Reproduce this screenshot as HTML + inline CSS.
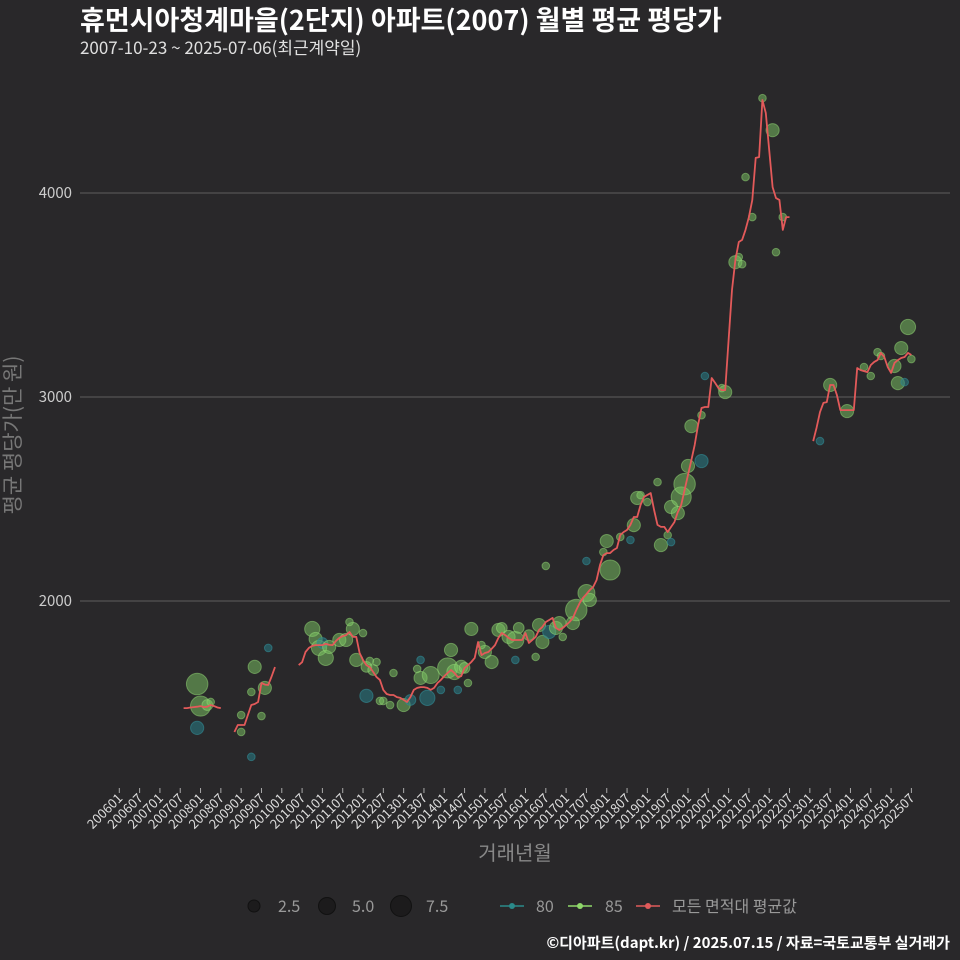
<!DOCTYPE html>
<html><head><meta charset="utf-8"><style>
html,body{margin:0;padding:0;background:#29282a;}
svg{display:block;font-family:"Noto Sans CJK KR","Liberation Sans",sans-serif;}
</style></head><body>
<svg id="chart" width="960" height="960" viewBox="0 0 960 960">
<rect width="960" height="960" fill="#29282a"/>
<text x="80" y="30" fill="#ffffff" font-size="27" font-weight="bold">휴먼시아청계마을(2단지) 아파트(2007) 월별 평균 평당가</text>
<text x="80" y="54" fill="#e0e0e0" font-size="17">2007-10-23 ~ 2025-07-06(최근계약일)</text>
<g id="grid"></g>
<g id="xaxis"></g>
<g id="bubbles"></g>
<g id="line"></g>
<text transform="translate(20,435) rotate(-90)" text-anchor="middle" fill="#777" font-size="21">평균 평당가(만 원)</text>
<text x="515" y="860" text-anchor="middle" fill="#888" font-size="20">거래년월</text>
<g>
<circle cx="254" cy="906" r="6" fill="#1c1b1c" stroke="#111"/>
<text x="278" y="912" fill="#999" font-size="16">2.5</text>
<circle cx="327" cy="906" r="8.5" fill="#1c1b1c" stroke="#111"/>
<text x="352" y="912" fill="#999" font-size="16">5.0</text>
<circle cx="401" cy="906" r="10.5" fill="#1c1b1c" stroke="#111"/>
<text x="426" y="912" fill="#999" font-size="16">7.5</text>
<line x1="500" y1="906" x2="524" y2="906" stroke="#2a8a8a" stroke-width="1.5"/>
<circle cx="512" cy="906" r="3" fill="#2a8a8a"/>
<text x="536" y="912" fill="#999" font-size="16">80</text>
<line x1="568" y1="906" x2="592" y2="906" stroke="#8fd86a" stroke-width="1.5"/>
<circle cx="580" cy="906" r="3" fill="#8fd86a"/>
<text x="605" y="912" fill="#999" font-size="16">85</text>
<line x1="636" y1="906" x2="660" y2="906" stroke="#e05a5a" stroke-width="1.5"/>
<circle cx="648" cy="906" r="3" fill="#e05a5a"/>
<text x="672" y="912" fill="#999" font-size="16">모든 면적대 평균값</text>
</g>
<text x="950" y="948" text-anchor="end" fill="#ffffff" font-size="15" font-weight="bold">©디아파트(dapt.kr) / 2025.07.15 / 자료=국토교통부 실거래가</text>
</svg>
<script>
// y ticks
const yTicks = [2000, 3000, 4000];
// x tick labels every 6 months from 200601
const xTickLabels = ["200601","200607","200701","200707","200801","200807","200901","200907","201001","201007","201101","201107","201201","201207","201301","201307","201401","201407","201501","201507","201601","201607","201701","201707","201801","201807","201901","201907","202001","202007","202101","202107","202201","202207","202301","202307","202401","202407","202501","202507"];
// average line: month index (months since 2006-01), values
const lineMonths = [19,20,21,22,23,24,25,26,27,28,29,30,
 34,35,36,37,38,39,40,41,42,43,44,45,46,
 53,54,55,56,57,58,59,60,61,62,63,64,65,66,67,68,69,70,71,72,73,74,75,76,77,78,79,80,81,82,83,84,85,86,87,88,89,90,91,92,93,94,95,96,97,98,99,100,101,102,103,104,105,106,107,108,109,110,111,112,113,114,115,116,117,118,119,120,121,122,123,124,125,126,127,128,129,130,131,132,133,134,135,136,137,138,139,140,141,142,143,144,145,146,147,148,149,150,151,152,153,154,155,156,157,158,159,160,161,162,163,164,165,166,167,168,169,170,171,172,173,174,175,176,177,178,179,180,181,182,183,184,185,186,187,188,189,190,191,192,193,194,195,196,197,198,
 205,206,207,208,209,210,211,212,213,214,215,216,217,218,219,220,221,222,223,224,225,226,227,228,229,230,231,232,233,234];
const lineValues = [1475,1475,1478,1480,1482,1485,1480,1482,1490,1485,1478,1475,
 1358,1392,1392,1392,1441,1490,1495,1505,1598,1590,1588,1630,1676,
 1686,1700,1750,1770,1780,1784,1784,1784,1790,1785,1784,1804,1819,1828,1833,1848,1824,1824,1745,1711,1686,1676,1652,1627,1613,1564,1544,1539,1539,1529,1525,1515,1505,1529,1564,1574,1578,1578,1574,1564,1574,1598,1613,1632,1647,1662,1647,1627,1632,1672,1686,1701,1721,1799,1735,1745,1750,1765,1784,1819,1843,1833,1819,1809,1809,1809,1809,1843,1794,1809,1824,1858,1873,1897,1907,1917,1868,1858,1868,1882,1897,1917,1956,1990,2015,2034,2054,2069,2103,2176,2225,2235,2235,2250,2260,2324,2338,2348,2373,2412,2412,2471,2510,2520,2529,2446,2373,2363,2363,2338,2363,2387,2436,2471,2544,2618,2691,2765,2863,2946,2951,2951,3093,3069,3044,3034,3034,3279,3525,3672,3760,3770,3819,3882,3966,4172,4176,4456,4392,4211,4029,3975,3966,3819,3882,3882,
 2784,2850,2926,2971,2975,3059,3059,3010,2936,2936,2936,2936,2936,3142,3132,3127,3122,3157,3172,3181,3216,3196,3147,3118,3167,3181,3191,3196,3216,3206];
// bubbles: month index, value, count, area type
const bubbleMonths = [23,24,23,26,27,36,36,39,40,42,43,39,44,57,58,59,61,60,62,65,67,69,68,72,70,73,74,76,75,73,77,78,80,81,84,86,89,88,89,91,92,97,98,99,101,103,104,95,100,102,108,110,107,112,113,115,117,118,117,121,123,124,125,126,127,129,130,131,134,135,138,139,138,144,143,145,148,151,152,153,154,156,159,160,162,163,163,165,166,167,168,172,169,172,173,178,179,182,183,184,185,187,190,193,194,196,210,215,220,222,224,225,229,230,232,231,233,234,207];
const bubbleValues = [1593,1485,1378,1490,1505,1358,1441,1554,1677,1436,1574,1236,1770,1863,1814,1770,1721,1794,1775,1809,1809,1863,1897,1843,1711,1677,1706,1701,1662,1535,1510,1510,1490,1647,1490,1515,1711,1667,1623,1525,1637,1672,1760,1652,1677,1598,1863,1564,1564,1672,1750,1701,1784,1858,1868,1824,1809,1868,1711,1833,1726,1882,1799,2172,1848,1868,1892,1824,1892,1956,2039,2005,2196,2294,2240,2152,2314,2299,2372,2505,2519,2485,2583,2274,2323,2289,2461,2431,2510,2573,2662,2686,2857,2911,3103,3044,3024,3661,3686,3651,4078,3882,4465,4308,3710,3882,3059,2931,3147,3103,3220,3201,3152,3068,3073,3240,3343,3186,2784];
const bubbleCounts = [8,7,3,2,1,1,1,1,3,1,3,1,1,4,3,4,4,2,3,3,3,3,1,1,3,2,1,1,2,3,1,1,1,1,3,2,1,1,3,4,5,7,3,4,3,1,3,1,1,2,3,3,1,3,2,3,5,2,1,2,1,3,3,1,3,3,3,1,3,8,5,3,1,3,1,7,1,1,3,3,1,1,1,3,1,1,3,3,7,8,3,3,3,1,1,1,3,3,1,1,1,1,1,3,1,1,3,3,1,1,1,1,3,3,1,3,4,1,1];
const bubbleTypes = [85,85,80,85,85,85,85,85,85,85,85,80,80,85,85,85,85,80,85,85,85,85,85,85,85,85,85,85,85,80,85,85,85,85,85,80,80,85,85,80,85,85,85,85,85,85,85,80,80,85,85,85,85,85,85,85,85,85,80,85,85,85,85,85,80,85,85,85,85,85,85,85,80,85,85,85,85,80,85,85,85,85,85,85,85,80,85,85,85,85,85,80,85,85,80,85,85,85,85,85,85,85,85,85,85,85,85,85,85,85,85,85,85,85,80,85,85,85,80];

const NS = "http://www.w3.org/2000/svg";
const X0 = 119.3, XS = 3.385;
function xScale(m){ return X0 + m * XS; }
function yScale(v){ return 601 - (v - 2000) * 0.204; }
function mk(tag, attrs, parent){ const e=document.createElementNS(NS,tag); for(const k in attrs) e.setAttribute(k,attrs[k]); parent.appendChild(e); return e; }

const grid = document.getElementById('grid');
yTicks.forEach(t=>{
  const y=yScale(t);
  const l=mk('line',{x1:80,x2:950,y1:y,y2:y,stroke:'#5e5e5e','stroke-width':1},grid);
  
  
  const tx=mk('text',{x:72,y:y+5,'text-anchor':'end',fill:'#cccccc','font-size':15},grid);
  tx.textContent=t;
  
  
});

const xa = document.getElementById('xaxis');
xTickLabels.forEach(lbl=>{
  const yr=parseInt(lbl.slice(0,4)), mo=parseInt(lbl.slice(4));
  const m=(yr-2006)*12+(mo-1);
  const x=xScale(m);
  const tk=mk('line',{x1:x,x2:x,y1:788,y2:793,stroke:'#aaaaaa','stroke-width':1},xa);
  
  
  const tx=mk('text',{transform:`translate(${x+4},799) rotate(-45)`,'text-anchor':'end',fill:'#dddddd','font-size':13},xa);
  tx.textContent=lbl;
  
  
});

const bg = document.getElementById('bubbles');
bubbleMonths.forEach((m,i)=>{
  const r=3.8*Math.sqrt(bubbleCounts[i]);
  const is80=bubbleTypes[i]===80;
  const c=mk('circle',{cx:xScale(m),cy:yScale(bubbleValues[i]),r:r,
    fill:is80?'rgba(40,125,135,0.55)':'rgba(125,200,100,0.5)',
    stroke:is80?'rgba(50,140,150,0.6)':'rgba(150,220,120,0.5)','stroke-width':1},bg);
  
  
});

const lg = document.getElementById('line');
let seg=[];
function flush(){
  if(seg.length>1){
    const p=mk('polyline',{points:seg.join(' '),fill:'none',stroke:'#e35a5a','stroke-width':1.8,'stroke-linejoin':'round'},lg);
    
    
  }
  seg=[];
}
lineMonths.forEach((m,i)=>{
  if(i>0 && m-lineMonths[i-1]>1) flush();
  if(lineValues[i]==null){flush();return;}
  seg.push(xScale(m).toFixed(1)+','+yScale(lineValues[i]).toFixed(1));
});
flush();
</script>
</body></html>
